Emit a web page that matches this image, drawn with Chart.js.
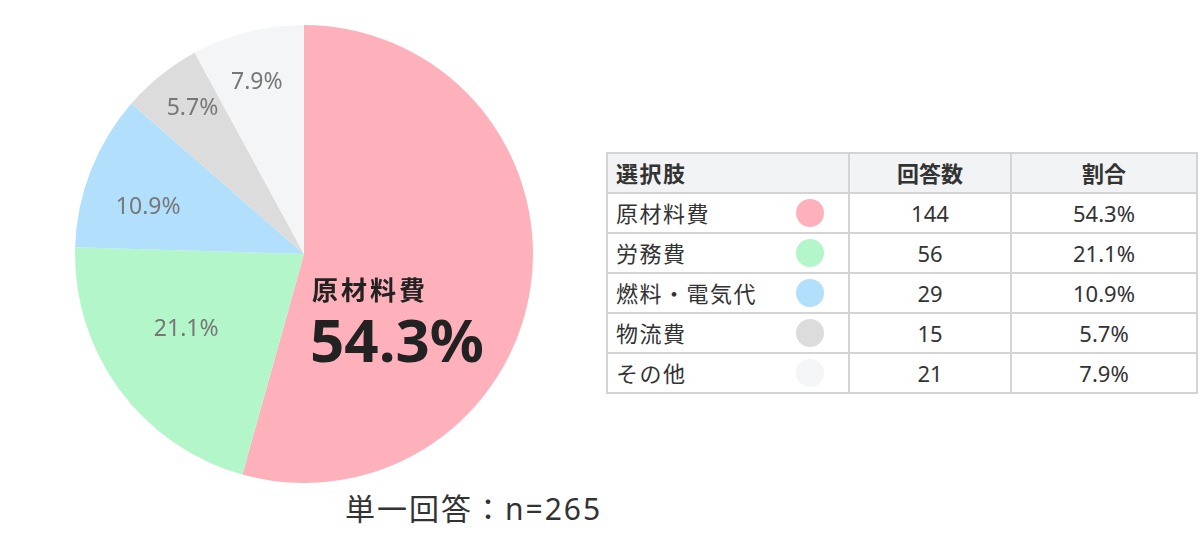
<!DOCTYPE html>
<html>
<head>
<meta charset="utf-8">
<script src="https://cdn.jsdelivr.net/npm/chart.js@4.4.0/dist/chart.umd.min.js"></script>
<style>
  body { margin: 0; background: #fff; font-family: "Noto Sans", "Noto Sans CJK JP", sans-serif; color: #333; }
  #wrap { position: relative; width: 1200px; height: 549px; }
  #pie-box { position: absolute; left: 75px; top: 25px; width: 458px; height: 458px; }
  #note { position: absolute; left: 345px; top: 488px; font-size: 30px; line-height: 42px; color: #333; letter-spacing: 2px; }
  table { position: absolute; left: 606px; top: 152px; border-collapse: collapse; font-size: 22px; line-height: 1; }
  td, th { border: 2px solid #d4d4d4; height: 38px; padding: 0 8px; text-align: center; }
  th { background: #f2f3f4; font-weight: bold; }
  .name { text-align: left; width: 224px; letter-spacing: 1.5px; }
  .name div { display: flex; justify-content: space-between; align-items: center; }
  .dot { width: 28px; height: 28px; border-radius: 50%; margin-right: 16px; }
</style>
</head>
<body>
<div id="wrap">
  <div id="pie-box"><canvas id="pie"></canvas></div>
  <div id="note">単一回答：n=265</div>
  <table id="tbl"></table>
</div>
<script>
const labels = ['原材料費', '労務費', '燃料・電気代', '物流費', 'その他'];
const counts = [144, 56, 29, 15, 21];
const colors = ['#ffb1bb', '#b3f6c9', '#b1dffc', '#dcdcdc', '#f3f5f6'];
// where the small labels sit: fraction of radius, and fraction along the slice
const labelRadius = [0, 0.61, 0.71, 0.8, 0.776];
const labelAlong = [0, 0.55, 0.38, 0.56, 0.46];

const total = counts.reduce((a, b) => a + b, 0);
const pct = counts.map((c) => (c / total * 100).toFixed(1) + '%');

// table
const tbl = document.getElementById('tbl');
let html = '<tr><th class="name">選択肢</th><th style="width:144px">回答数</th><th style="width:168px">割合</th></tr>';
labels.forEach((l, i) => {
  html += '<tr><td class="name"><div><span>' + l + '</span><span class="dot" style="background:' + colors[i] + '"></span></div></td>' +
    '<td>' + counts[i] + '</td><td>' + pct[i] + '</td></tr>';
});
tbl.innerHTML = html;

const sliceLabels = {
  id: 'sliceLabels',
  afterDatasetsDraw(chart) {
    const ctx = chart.ctx;
    const arcs = chart.getDatasetMeta(0).data;
    ctx.save();
    arcs.forEach((arc, i) => {
      if (i === 0) {
        // biggest slice gets the big label
        ctx.fillStyle = '#222';
        ctx.textAlign = 'left';
        ctx.textBaseline = 'middle';
        ctx.font = 'bold 26px "Noto Sans CJK JP"';
        ctx.letterSpacing = '3px';
        ctx.fillText(labels[0], arc.x + 8, arc.y + 36);
        ctx.letterSpacing = '0px';
        ctx.font = 'bold 60px "Noto Sans"';
        ctx.fillText(pct[0], arc.x + 6, arc.y + 91);
        return;
      }
      const a = arc.startAngle + (arc.endAngle - arc.startAngle) * labelAlong[i];
      const r = arc.outerRadius * labelRadius[i];
      ctx.fillStyle = '#777';
      ctx.textAlign = 'center';
      ctx.textBaseline = 'middle';
      ctx.font = '23px "Noto Sans"';
      ctx.fillText(pct[i], arc.x + Math.cos(a) * r, arc.y + Math.sin(a) * r);
    });
    ctx.restore();
  }
};

new Chart(document.getElementById('pie').getContext('2d'), {
  type: 'pie',
  data: {
    labels: labels,
    datasets: [{ data: counts, backgroundColor: colors, borderWidth: 0 }]
  },
  options: {
    responsive: true,
    maintainAspectRatio: false,
    animation: false,
    layout: { padding: 0 },
    plugins: { legend: { display: false }, tooltip: { enabled: false } }
  },
  plugins: [sliceLabels]
});
</script>
</body>
</html>
